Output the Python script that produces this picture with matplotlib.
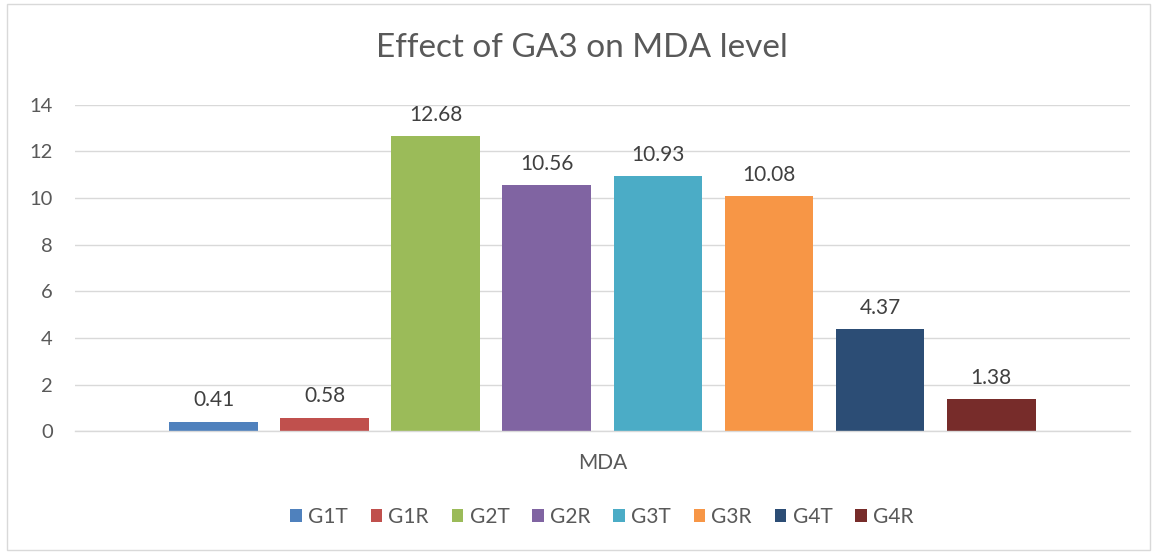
import numpy as np
import matplotlib.pyplot as plt
from matplotlib.patches import Rectangle

plt.rcParams['font.family'] = ['Lato', 'DejaVu Sans']

# Data
groups = ['G1T', 'G1R', 'G2T', 'G2R', 'G3T', 'G3R', 'G4T', 'G4R']
mda = [0.41, 0.58, 12.68, 10.56, 10.93, 10.08, 4.37, 1.38]
colors = ['#4F81BD', '#C0504D', '#9BBB59', '#8064A2', '#4BACC6', '#F79646', '#2C4D75', '#772C2A']
yticks = [0, 2, 4, 6, 8, 10, 12, 14]

fig = plt.figure(figsize=(11.53, 5.52), dpi=100)
ax = fig.add_axes([0.065, 0.219, 0.915, 0.591])

x = np.arange(len(groups))
bars = ax.bar(x, mda, width=0.8, color=colors, label=groups, zorder=3)

for xi, v in zip(x, mda):
    ax.annotate(f'{v:.2f}', (xi, v), xytext=(0, 8), textcoords='offset points',
                ha='center', va='bottom', fontsize=15, color='#404040')

ax.set_xlim(-1.25, 8.25)
ax.set_ylim(0, 14)
ax.set_yticks(yticks)
ax.yaxis.grid(True, color='#D9D9D9', linewidth=1, zorder=0)
ax.tick_params(axis='y', length=0, pad=16, labelsize=14.5, labelcolor='#595959')
ax.set_xticks([3.5])
ax.set_xticklabels(['MDA'])
ax.tick_params(axis='x', length=0, pad=16, labelsize=15, labelcolor='#595959')
for s in ['top', 'right', 'left']:
    ax.spines[s].set_visible(False)
ax.spines['bottom'].set_color('#D9D9D9')
ax.spines['bottom'].set_linewidth(1)
ax.spines['bottom'].set_zorder(4)

fig.text(0.505, 1 - 48 / 552, 'Effect of GA3 on MDA level', ha='center', va='center',
         fontsize=24, color='#595959')

fig.legend(handles=list(bars), labels=groups, loc='center', bbox_to_anchor=(0.522, 1 - 517 / 552),
           ncol=8, frameon=False, fontsize=15, handlelength=0.55, handleheight=0.55,
           handletextpad=0.3, columnspacing=1.1, labelcolor='#595959')

fig.add_artist(Rectangle((7 / 1153, 2 / 552), 1143 / 1153, 546 / 552, transform=fig.transFigure,
                         fill=False, edgecolor='#D9D9D9', linewidth=1))

plt.savefig('out.png', dpi=100)
